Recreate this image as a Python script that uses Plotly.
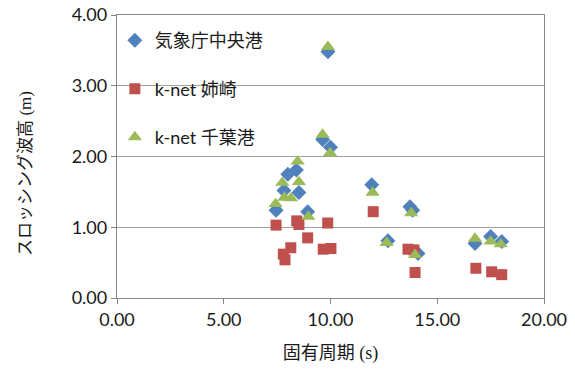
import plotly.graph_objects as go

# 気象庁中央港 (blue diamonds)
jma_x = [9.88, 9.63, 10.00, 8.00, 8.40, 7.82, 8.52, 7.45, 8.93, 11.93, 13.72, 13.85, 12.69, 14.10, 16.77, 17.50, 18.02]
jma_y = [3.48, 2.24, 2.13, 1.75, 1.81, 1.52, 1.49, 1.24, 1.22, 1.60, 1.29, 1.24, 0.81, 0.63, 0.77, 0.87, 0.80]

# k-net 姉崎 (red squares)
ane_x = [7.45, 8.42, 8.52, 9.87, 8.93, 8.14, 7.79, 7.87, 9.66, 10.02, 12.00, 13.63, 13.91, 13.96, 16.81, 17.55, 18.02]
ane_y = [1.03, 1.09, 1.04, 1.06, 0.85, 0.71, 0.62, 0.54, 0.69, 0.70, 1.22, 0.69, 0.68, 0.36, 0.42, 0.37, 0.33]

# k-net 千葉港 (green triangles)
chb_x = [9.88, 9.63, 9.98, 8.46, 7.74, 8.52, 7.84, 8.15, 7.43, 8.96, 11.97, 13.78, 12.63, 13.96, 16.77, 17.50, 17.97]
chb_y = [3.55, 2.31, 2.05, 1.93, 1.63, 1.64, 1.42, 1.41, 1.33, 1.15, 1.49, 1.20, 0.78, 0.61, 0.84, 0.80, 0.76]

names = ["気象庁中央港", "k-net 姉崎", "k-net 千葉港"]

FONT = "Lato, 'Noto Sans CJK JP', sans-serif"
SERIF = "Liberation Serif, serif"

fig = go.Figure()
fig.add_trace(go.Scatter(x=jma_x, y=jma_y, mode="markers", name=names[0], legendgroup="a",
                         marker=dict(symbol="diamond", size=11.5, color="#4F81BD")))
fig.add_trace(go.Scatter(x=ane_x, y=ane_y, mode="markers", name=names[1], legendgroup="b",
                         marker=dict(symbol="square", size=11, color="#C0504D")))
fig.add_trace(go.Scatter(x=chb_x, y=chb_y, mode="markers", name=names[2], legendgroup="c",
                         marker=dict(symbol="triangle-up", size=12.5, color="#9BBB59")))

axis_common = dict(showline=True, linecolor="#868686", linewidth=1.3, mirror=True,
                   ticks="outside", ticklen=5, tickcolor="#868686", tickformat=".2f",
                   tickfont=dict(family=FONT, size=18, color="#1a1a1a"), zeroline=False,
                   automargin=False)

fig.update_xaxes(range=[0, 20], dtick=5, tick0=0, showgrid=False, **axis_common,
                 title=dict(text=f"固有周期 <span style='font-family:{SERIF}'>(s)</span>",
                            font=dict(family=FONT, size=18, color="#1a1a1a"), standoff=17))
fig.update_yaxes(range=[0, 4], dtick=1, tick0=0, showgrid=True, gridcolor="#A0A0A0", gridwidth=1.3,
                 **axis_common)

fig.add_annotation(text=f"スロッシング波高 <span style='font-family:{SERIF}'>(m)</span>",
                   xref="paper", yref="paper", x=-0.2155, y=0.4417, textangle=-90,
                   showarrow=False, xanchor="center", yanchor="middle",
                   font=dict(family=FONT, size=17, color="#1a1a1a"))

fig.update_layout(
    width=575, height=376,
    margin=dict(l=117, r=31, t=15, b=78, autoexpand=False),
    paper_bgcolor="white", plot_bgcolor="white",
    font=dict(family=FONT, size=18, color="#1a1a1a"),
    showlegend=True,
    legend=dict(x=-0.005, y=0.975, xanchor="left", yanchor="top", bgcolor="rgba(0,0,0,0)",
                traceorder="grouped", tracegroupgap=22,
                font=dict(family=FONT, size=18, color="#1a1a1a")),
)

fig.write_html("out.html")
